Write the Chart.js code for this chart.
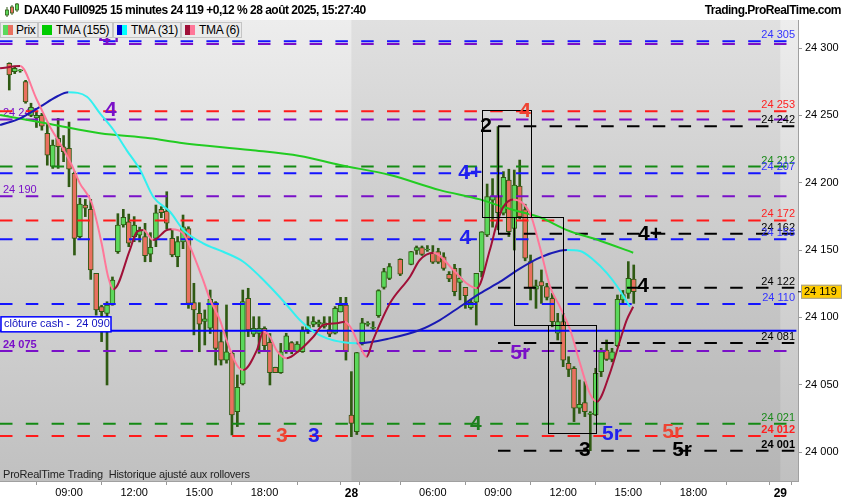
<!DOCTYPE html>
<html><head><meta charset="utf-8">
<script src="https://cdn.jsdelivr.net/npm/chart.js@4.4.1/dist/chart.umd.min.js"></script>
<style>
html,body{margin:0;padding:0;background:#fff;}
#wrap{position:relative;width:850px;height:500px;overflow:hidden;font-family:"Liberation Sans",Arial,sans-serif;}
#c{position:absolute;left:0;top:0;}
#title{position:absolute;left:24px;top:3px;font-size:12px;font-weight:bold;color:#000;white-space:nowrap;letter-spacing:-0.5px;}
#site{position:absolute;right:9px;top:3px;font-size:12px;font-weight:bold;color:#000;white-space:nowrap;letter-spacing:-0.5px;}
#ico{position:absolute;left:4px;top:2px;}
.lg{position:absolute;top:22px;height:16px;background:#ebebeb;border:1px solid #c4c4c4;box-sizing:border-box;font-size:12px;line-height:14px;color:#000;white-space:nowrap;letter-spacing:-0.3px;}
.lg span.t{position:absolute;top:0px;}
.sw{position:absolute;top:2px;width:5px;height:10px;}
</style></head>
<body><div id="wrap">
<canvas id="c" width="850" height="500"></canvas>
<svg id="ico" width="16" height="16" viewBox="0 0 16 16">
<line x1="3" y1="5" x2="3" y2="15" stroke="#2f5a13"/><rect x="1.5" y="8" width="3" height="5" fill="#5bd85b" stroke="#2f5a13" stroke-width="0.8"/>
<line x1="8" y1="3" x2="8" y2="13" stroke="#2f5a13"/><rect x="6.5" y="5" width="3" height="6" fill="#e9705f" stroke="#2f5a13" stroke-width="0.8"/>
<line x1="13" y1="1" x2="13" y2="10" stroke="#2f5a13"/><rect x="11.5" y="2" width="3" height="6" fill="#5bd85b" stroke="#2f5a13" stroke-width="0.8"/>
</svg>
<div id="title">DAX40 Full0925 15 minutes 24 119 +0,12 % 28 août 2025, 15:27:40</div>
<div id="site">Trading.ProRealTime.com</div>
<div class="lg" style="left:0;width:38px;"><div class="sw" style="left:2px;background:#5bd85b"></div><div class="sw" style="left:7px;background:#e9705f"></div><span class="t" style="left:15px">Prix</span></div>
<div class="lg" style="left:38px;width:75px;"><div class="sw" style="left:3px;width:10px;background:#00cc00"></div><span class="t" style="left:17px">TMA (155)</span></div>
<div class="lg" style="left:113px;width:68px;"><div class="sw" style="left:3px;background:#0000cc"></div><div class="sw" style="left:8px;background:#00ffff"></div><span class="t" style="left:17px">TMA (31)</span></div>
<div class="lg" style="left:181px;width:61px;"><div class="sw" style="left:3px;background:#a01038"></div><div class="sw" style="left:8px;background:#ff7799"></div><span class="t" style="left:17px">TMA (6)</span></div>
</div>
<script>
// ---------- DATA ----------
// bar index 0 = first visible 15-minute candle (27 Aug)
const opens  = [24288.6,24282.4,24283,24275,24250,24248,24250,24236.6,24212,24233,24226.7,24225.5,24207,24160,24183.4,24180.2,24132.7,24108,24103,24109.2,
 24148.8,24168.6,24171,24160,24161,24160,24147,24158.7,24180.2,24179,24158.7,24145,24156,24166,24110.9,24103,24097,24091.9,24110.9,24082,
 24068.3,24073.3,24030,24050.5,24114.1,24087.6,24088,24091.9,24081.5,24062.9,24059,24074.5,24081.2,24074.5,24074.5,24090.6,24094.8,24095,24093.2,24091,
 24088.2,24104,24109.2,24027.5,24015.1,24080.7,24094.8,24091.9,24101.3,24122.3,24129,null,24143.1,null,24139.4,24149.8,24151.8,24150,24147.5,24148.8,
 24145,24132,24136.4,24126,24122.3,24107.2,24111.2,24134,24161.2,24187,24189.6,24177.3,24202,24166,24197.5,24180,24141.4,24121,24126.5,24122.8,
 24114.1,24088.2,24096.8,24065.9,24062.2,24032.5,24036.7,24028,24027.5,24059.7,24075.8,24068.8,24079,24113,24117.8,24128.5];
const highs  = [24289,24286,24284,24276,24259,24253,24251.5,24244,24231.7,24247.8,24235,24245,24208,24188.4,24187.6,24187.6,24132.7,24109,24111.6,24130,
 24177,24180.2,24176.7,24174.8,24167,24169.8,24162.9,24183.4,24182.2,24193.3,24164.9,24160,24176,24167.3,24125.3,24110.9,24105.5,24120.3,24111.7,24089.4,
 24109.2,24074.5,24057.2,24120.3,24121.6,24100.5,24100.5,24093,24088,24063,24080.7,24088.2,24082,24082,24093,24100.5,24100.5,24098,24100.5,24100.5,
 24108,24114.9,24114.9,24059.7,24074,24099.3,24096.8,24096.8,24120.5,24136.4,24140,null,24143.5,null,24149,24153,24153,24153.3,24153.3,24151.3,
 24148,24134,24139.4,24136.4,24122.3,24113,24132.7,24163.6,24199,24203,24241.6,24208.2,24210,24209.4,24216.8,24184,24146.3,24127.7,24135.2,24125.3,
 24117.8,24103,24103,24070.8,24063.4,24053.5,24052.3,24030,24062.2,24077,24083.2,24077,24116.6,24120,24141.4,24138.9];
const lows   = [24268.8,24281,24282,24259,24249,24241,24239,24213,24210.6,24210.6,24215.6,24197,24146.3,24158.7,24174.8,24128.2,24101.7,24082,24049.8,24109,
 24147.5,24167,24152.5,24156.2,24156,24141.3,24141.3,24152.5,24174,24165.8,24145,24137.6,24151,24106.7,24087,24074.5,24079.5,24088,24064.6,24064.6,
 24066,24012.7,24018.9,24049.8,24085.7,24085.7,24073.3,24075,24049.8,24059,24058.4,24073.3,24073,24074,24074,24088,24093,24093,24092,24085.7,
 24087.6,24104,24068.3,24011.4,24013,24079.5,24093.5,24091,24100,24121,24128,null,24131,null,24139,24146.8,24146,24149,24140,24140,
 24135,24126.5,24116,24113,24106.7,24106,24094.3,24130,24160,24167,24165,24176,24160,24150,24173,24142,24112.9,24106.7,24110.4,24112.9,
 24093,24083.2,24063.4,24056,24022.6,24028.7,24026.3,24001,24027,24056,24068,24067,24078.3,24110,24114.1,24110.4];
const closes = [24280,24284.9,24283.5,24260,24256,24250,24242,24220.5,24228,24226.7,24223,24210,24158.7,24184.2,24181,24135.2,24105.5,24104.2,24109.2,24127.7,
 24168.6,24174.3,24155,24168.6,24164.8,24145.8,24152,24177.7,24177.7,24170,24146.3,24156.2,24167.3,24110.4,24105.5,24095,24099,24113.4,24077,24068.3,
 24074.5,24027.5,24048,24111.7,24090.6,24091.9,24091.9,24079,24059,24059,24074.5,24086.2,24074.5,24080.2,24090.6,24094.3,24096.8,24096.5,24096,24087.6,
 24106.7,24109,24074.5,24021.3,24073.8,24096,24095.2,24092.2,24119.8,24134,24137.7,null,24132,null,24148.8,24151.8,24146.8,24150.3,24140.9,24140.9,
 24136.4,24128.5,24119,24129,24116.1,24111.2,24132.7,24163.6,24189.6,24190,24177.7,24204,24163.6,24198.3,24174.8,24144,24121.6,24123.4,24123.3,24114.9,
 24096.8,24096.8,24068.3,24061.4,24032.5,24035.4,24030,24029,24058.4,24074.5,24068.8,24074.5,24113.4,24117,24129,24119];

// moving averages (bar index, price)
const tma155X = [-1.7,7.5,16.7,25.9,31.4,44.4,53.5,60.9,70.1,79.3,86.7,90.4,94.1,97.7,102.7,108.8,114.9];
const tma155Y = [24250.2,24243.6,24236.7,24233.0,24229.7,24224.3,24219.8,24213.1,24205.7,24194.5,24187.6,24182.7,24178.4,24174.3,24164.8,24156.9,24148.0];
const tma31X = [-1.7,2.0,5.7,8.7,10.9,14.3,16.7,19.2,21.6,24.1,26.5,29.6,32.1,35.7,39.4,43.1,46.2,48.6,51.1,53.5,56.0,58.5,61.5,64.0,70.1,75.6,79.3,83.0,86.7,90.4,94.1,97.7,101.4,102.7,105.1,107.6,110.1,112.0,114.3];
const tma31Y = [24242.8,24247.8,24256.4,24263.8,24267.1,24263.8,24251.5,24239.1,24224.2,24209.4,24189.6,24178.4,24164.8,24155.0,24148.7,24141.3,24130.2,24120.3,24109.2,24098.0,24089.4,24084.4,24081.5,24080.7,24084.4,24090.6,24098.0,24107.9,24117.8,24126.5,24136.4,24144.4,24149.5,24150.0,24149.3,24142.6,24132.7,24122.7,24107.9];
const tma6X = [-1.7,2.0,5.1,7.5,9.7,11.5,13.0,15.2,17.0,18.2,19.2,22.2,23.5,24.7,26.5,29.0,29.9,32.0,33.3,35.7,37.0,38.8,40.0,41.9,43.1,45.6,46.8,48.0,49.2,51.1,53.5,56.0,57.8,60.3,61.8,62.8,64.6,65.8,67.0,70.1,73.8,75.6,78.1,81.8,84.2,86.1,88.5,89.8,91.0,92.8,95.9,97.7,99.6,101.4,103.3,105.1,106.9,108.2,110.6,112.5,113.7,114.9];
const tma6Y = [24284.9,24286.6,24261.4,24241.6,24226.7,24213.1,24199.5,24184.7,24155.0,24130.2,24120.8,24150.0,24163.6,24164.9,24157.4,24164.9,24165.4,24162.4,24152.4,24127.7,24112.9,24098.0,24083.2,24064.6,24060.9,24075.7,24089.3,24085.6,24075.7,24069.6,24075.7,24085.6,24094.3,24095.6,24096.8,24093.0,24078.2,24070.8,24083.2,24110.4,24130.2,24142.6,24148.0,24135.1,24125.3,24121.6,24150.0,24169.8,24182.2,24187.6,24177.2,24152.5,24122.7,24107.9,24090.6,24065.9,24043.6,24037.4,24058.4,24083.2,24098.0,24107.9];

// horizontal levels
const levelValues = [24303,24305,24253,24247,24242,24212,24207,24190,24172,24162,24158,24122,24110,24090,24081,24075,24021,24012,24001];
const levelKinds  = ['purple','blue','red','purple','black','green','blue','purple','red','black','blue','black','blue','cash','black','purple','green','red','black'];
const rightLabelValues = [24305,24253,24242,24212,24207,24172,24162,24158,24122,24110,24081,24021,24012,24001];
const rightLabelKinds  = ['blue','red','black','green','blue','red','black','blue','black','blue','black','green','red','black'];
const rightLabelBold   = [24012,24001];
const leftLabelValues = [24247,24190,24075];
const cashValue = 24090;
const lastPrice = 24119;

// y axis / x axis ticks
const yTickValues = [24000,24050,24100,24150,24200,24250,24300];
const xTickPos    = [-1,11,23,35,47,59,63,66,78,90,102,114,126,138,142];
const xTickLabels = ['','09:00','12:00','15:00','18:00','','28','','06:00','09:00','12:00','15:00','18:00','','29'];
const sessionBounds = [63,142];
const blackLevelStart = 90;

// wave annotations
const annoTexts = ['4+','4','3','3','2','4','4+','4','5r','4','3','5r','5r','5r','4+','4'];
const annoX = [18.7,18.7,50.2,56.1,87.8,95.0,84.9,84.0,94.1,85.9,106,111,122.1,123.9,118,116.7];
const annoY = [24307.4,24254,24012,24012,24242,24253,24207,24159,24073.5,24021,24001.5,24013,24015,24001,24162,24123];
const annoKinds = ['purple','purple','red','blue','black','red','blue','blue','purple','green','black','blue','red','black','black','black'];

// rectangles & bracket
const boxX0 = [87.0,93.0,99.2], boxX1 = [96.0,102.0,108.0];
const boxTop = [24254,24174.3,24094.1], boxBottom = [24174.3,24094.1,24013.9];
const bracketX = 90.0, bracketTop = 24242, bracketBottom = 24162;

// ---------- STYLE ----------
const FONT = '"Liberation Sans", Arial, sans-serif';
const XMIN = -1.71, XMAX = 145.25, YMIN = 23978.5, YMAX = 24320.8;
const UP = '#5bd85b', DOWN = '#e9705f', WICK = '#2f5a13';
const lineCol = {blue:'#1414ff', red:'#ff1a1a', green:'#148a14', purple:'#7a10c8', black:'#000000', cash:'#0000ff'};
const textCol = {blue:'#3333ff', red:'#ff2020', green:'#1a8a1a', purple:'#7a10c8', black:'#000000'};
const annoCol = {blue:'#2020ee', red:'#ee4433', green:'#1f7f1f', purple:'#7a10c8', black:'#000000'};

const fmt = v => { const s = String(Math.round(v)); return s.slice(0, s.length-3) + ' ' + s.slice(-3); };

// ---------- DATASETS ----------
const wickData = [], bodyData = [], bodyColors = [];
opens.forEach((o, i) => {
  if (o === null) return;
  wickData.push({x: i, y: [lows[i], highs[i]]});
  bodyData.push({x: i, y: [o, closes[i]]});
  bodyColors.push(closes[i] >= o ? UP : DOWN);
});
const pts = (xs, ys) => xs.map((x, i) => ({x, y: ys[i]}));
const seg = (up, down) => ({borderColor: c => (c.p1.parsed.y >= c.p0.parsed.y ? up : down)});

const datasets = [
  {type:'bar', data: wickData, backgroundColor: WICK, borderWidth: 0, barThickness: 2, grouped: false, order: 20},
  {type:'bar', data: bodyData, backgroundColor: bodyColors, borderColor: WICK, borderWidth: 1, borderSkipped: false, barThickness: 5, minBarLength: 1, grouped: false, order: 19},
];
levelValues.forEach((v, i) => {
  const k = levelKinds[i];
  const start = k === 'black' ? blackLevelStart : XMIN;
  datasets.push({type:'line', data: [{x: start, y: v}, {x: XMAX - 0.3, y: v}], borderColor: lineCol[k], borderWidth: 2,
    borderDash: k === 'cash' ? [] : [12.5, 13.3], pointRadius: 0, order: 10, clip: true});
});
datasets.push({type:'line', data: pts(tma155X, tma155Y), borderColor: '#22cc22', borderWidth: 2, pointRadius: 0, cubicInterpolationMode: 'monotone', order: 3});
datasets.push({type:'line', data: pts(tma31X, tma31Y), borderColor: '#1a1ab4', segment: seg('#1a1ab4', '#33f0f0'), borderWidth: 2, pointRadius: 0, cubicInterpolationMode: 'monotone', order: 2});
datasets.push({type:'line', data: pts(tma6X, tma6Y), borderColor: '#a01038', segment: seg('#a01038', '#ff7799'), borderWidth: 2, pointRadius: 0, cubicInterpolationMode: 'monotone', order: 1});

// ---------- PLUGIN ----------
const deco = {
  id: 'deco',
  beforeDraw(chart) {
    const {ctx, chartArea: a, scales: {x}} = chart;
    ctx.save();
    ctx.fillStyle = '#fff'; ctx.fillRect(0, 0, chart.width, chart.height);
    const g = ctx.createLinearGradient(0, a.top, 0, a.bottom);
    g.addColorStop(0, '#ededed'); g.addColorStop(1, '#c0c0c0');
    ctx.fillStyle = g; ctx.fillRect(a.left, a.top, a.right - a.left, a.bottom - a.top);
    const x0 = x.getPixelForValue(sessionBounds[0]), x1 = x.getPixelForValue(sessionBounds[1]);
    ctx.fillStyle = 'rgba(0,0,0,0.055)'; ctx.fillRect(x0, a.top, x1 - x0, a.bottom - a.top);
    ctx.restore();
  },
  beforeDatasetsDraw(chart) {
    const {ctx, chartArea: a, scales: {y}} = chart;
    ctx.save();
    ctx.textAlign = 'left'; ctx.textBaseline = 'alphabetic';
    leftLabelValues.forEach((v, i) => {
      ctx.font = (i === 2 ? 'bold ' : '') + '11px ' + FONT;
      ctx.fillStyle = textCol.purple;
      ctx.fillText(fmt(v), a.left + 3, y.getPixelForValue(v) - 3);
    });
    ctx.restore();
  },
  afterDatasetsDraw(chart) {
    const {ctx, chartArea: a, scales: {x, y}} = chart;
    ctx.save();
    // boxes
    ctx.strokeStyle = '#000'; ctx.lineWidth = 1;
    boxX0.forEach((bx, i) => {
      const l = Math.round(x.getPixelForValue(bx)) + 0.5, r = Math.round(x.getPixelForValue(boxX1[i])) + 0.5;
      const t = Math.round(y.getPixelForValue(boxTop[i])) + 0.5, b = Math.round(y.getPixelForValue(boxBottom[i])) + 0.5;
      ctx.strokeRect(l, t, r - l, b - t);
    });
    ctx.beginPath();
    const bxp = Math.round(x.getPixelForValue(bracketX)) + 0.5;
    ctx.moveTo(bxp, y.getPixelForValue(bracketTop)); ctx.lineTo(bxp, y.getPixelForValue(bracketBottom)); ctx.stroke();
    // right labels
    ctx.textAlign = 'right'; ctx.textBaseline = 'alphabetic';
    rightLabelValues.forEach((v, i) => {
      ctx.font = (rightLabelBold.includes(v) ? 'bold ' : '') + '11px ' + FONT;
      ctx.fillStyle = textCol[rightLabelKinds[i]];
      ctx.fillText(fmt(v), a.right - 3, y.getPixelForValue(v) - 3);
    });
    // annotations
    ctx.textAlign = 'center'; ctx.textBaseline = 'middle';
    ctx.font = 'bold 21px ' + FONT;
    annoTexts.forEach((t, i) => {
      ctx.fillStyle = annoCol[annoKinds[i]];
      ctx.fillText(t, x.getPixelForValue(annoX[i]), y.getPixelForValue(annoY[i]));
    });
    // cash close label
    const cy = y.getPixelForValue(cashValue);
    ctx.fillStyle = '#fff'; ctx.strokeStyle = '#0000ff'; ctx.lineWidth = 1.5;
    ctx.fillRect(a.left + 1, cy - 14, 110, 15); ctx.strokeRect(a.left + 1, cy - 14, 110, 15);
    ctx.fillStyle = '#1010c0'; ctx.font = '11px ' + FONT; ctx.textAlign = 'left'; ctx.textBaseline = 'middle';
    ctx.fillText('clôture cash -  ' + fmt(cashValue), a.left + 4, cy - 6.5);
    // footer
    ctx.fillStyle = '#222'; ctx.font = '11px ' + FONT; ctx.textBaseline = 'middle';
    if ('letterSpacing' in ctx) ctx.letterSpacing = '-0.2px';
    ctx.fillText('ProRealTime Trading  Historique ajusté aux rollovers', a.left + 3, a.bottom - 6);
    if ('letterSpacing' in ctx) ctx.letterSpacing = '0px';
    // last price tag
    const py = y.getPixelForValue(lastPrice);
    ctx.strokeStyle = '#000'; ctx.lineWidth = 1;
    ctx.beginPath(); ctx.moveTo(a.right, py); ctx.lineTo(a.right + 4, py); ctx.stroke();
    ctx.fillStyle = '#ffcc00'; ctx.strokeStyle = '#a0a0a0';
    ctx.fillRect(a.right + 3, py - 7, 41, 14); ctx.strokeRect(a.right + 3.5, py - 6.5, 40, 13);
    ctx.fillStyle = '#000'; ctx.font = '11px ' + FONT; ctx.textAlign = 'left';
    ctx.fillText(fmt(lastPrice), a.right + 6, py + 0.5);
    ctx.restore();
  }
};

new Chart(document.getElementById('c'), {
  type: 'bar',
  data: {datasets},
  options: {
    responsive: false, animation: false,
    layout: {padding: {top: 20, left: 0, right: 0, bottom: 0}},
    plugins: {legend: {display: false}, tooltip: {enabled: false}},
    scales: {
      x: {type: 'linear', min: XMIN, max: XMAX, offset: false,
        grid: {drawOnChartArea: false, drawTicks: true, tickLength: 4, color: '#999'},
        border: {color: '#a0a0a0'},
        afterBuildTicks: s => { s.ticks = xTickPos.map(v => ({value: v})); },
        afterFit: s => { s.height = 19; },
        ticks: {autoSkip: false, maxRotation: 0, minRotation: 0, padding: 1, color: '#000',
          font: c => { const lb = xTickLabels[c.index] || ''; const day = lb && lb.indexOf(':') < 0; return {family: FONT, size: day ? 12 : 11, weight: day ? 'bold' : 'normal'}; },
          callback: (v, i) => xTickLabels[i]}
      },
      y: {type: 'linear', position: 'right', min: YMIN, max: YMAX,
        grid: {drawOnChartArea: false, drawTicks: true, tickLength: 4, color: '#999'},
        border: {color: '#a0a0a0'},
        afterBuildTicks: s => { s.ticks = yTickValues.map(v => ({value: v})); },
        afterFit: s => { s.width = 52; },
        ticks: {padding: 3, color: '#000', font: {family: FONT, size: 11}, callback: v => fmt(v)}
      }
    }
  },
  plugins: [deco]
});
</script>
</body></html>
